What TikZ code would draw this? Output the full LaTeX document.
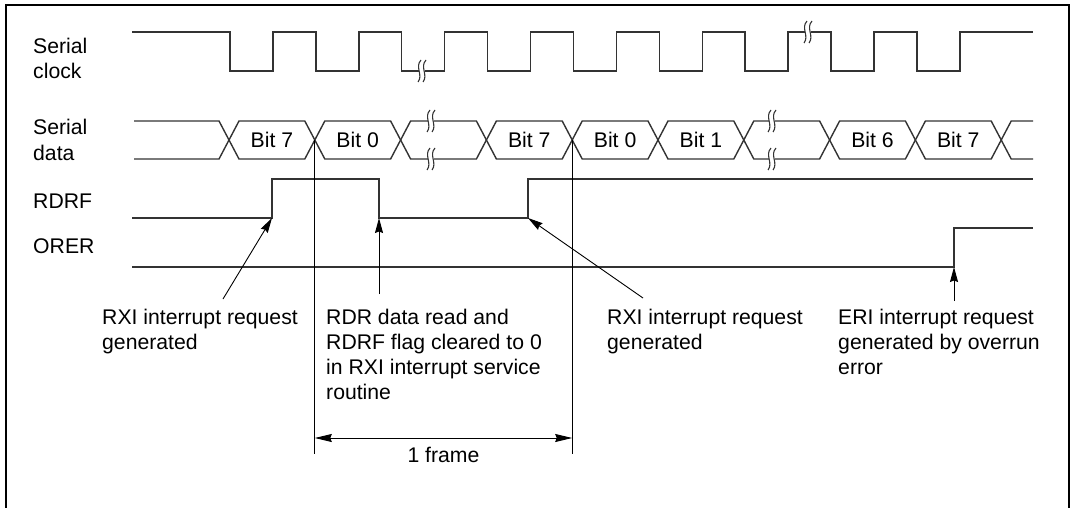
\documentclass[tikz,border=0pt]{standalone}
\usepackage{fontspec}
\setmainfont{Liberation Sans}
\usetikzlibrary{arrows.meta}
\newcommand\brkmk[2]{%
  \fill[white] (#1-2.8,#2-5) rectangle (#1+2.8,#2+5);
  \draw[brkline] (#1-1,#2-11) .. controls (#1-7.5,#2-4) and (#1+1.5,#2+4) .. (#1-4,#2+11);
  \draw[brkline] (#1+4,#2-11) .. controls (#1-2.5,#2-4) and (#1+6.5,#2+4) .. (#1+1,#2+11);
}
\begin{document}
\begin{tikzpicture}[x=1pt,y=-1pt,
  wave/.style={line width=1.4pt, draw=black!80, line join=miter},
  guide/.style={line width=1.1pt, draw=black},
  brkline/.style={line width=1.1pt, draw=black!80},
  callout/.style={line width=0.9pt, draw=black, -{Stealth[length=15pt,width=8pt,inset=1.5pt]}},
  dim/.style={line width=0.9pt, draw=black, {Stealth[length=17pt,width=8pt,inset=1.5pt]}-{Stealth[length=17pt,width=8pt,inset=1.5pt]}},
  lbl/.style={anchor=base west, inner sep=0pt, align=left, font=\fontsize{21.2}{25}\selectfont},
  bit/.style={anchor=center, inner sep=0pt, font=\fontsize{21.2}{25}\selectfont}]
\useasboundingbox (0,0) rectangle (1075,508);
% frame
\draw[line width=2pt] (5.5,520) -- (5.5,5.5) -- (1068.5,5.5) -- (1068.5,520);

% signal names (anchor = baseline of last line)
\node[lbl] (nclk) at (33,78.5) {Serial\\clock};
\node[lbl] (ndat) at (33,160) {Serial\\data};
\node[lbl] (nrdrf) at (33,208.3) {RDRF};
\node[lbl] (norer) at (33,253.3) {ORER};

% serial clock
\draw[wave] (132,32) foreach \k in {0,...,8} {
  -- ({230+85.85*\k},32) -- ({230+85.85*\k},71) -- ({273+85.85*\k},71) -- ({273+85.85*\k},32) } -- (1033,32);

% serial data
\draw[wave] (134,121) foreach \k in {0,2,4,6,8} {
  -- ({229+85.8*\k-10},121) -- ({229+85.8*\k+10},159) -- ({229+85.8*(\k+1)-10},159) -- ({229+85.8*(\k+1)+10},121) } -- (1033,121);
\draw[wave] (134,159) foreach \k in {0,2,4,6,8} {
  -- ({229+85.8*\k-10},159) -- ({229+85.8*\k+10},121) -- ({229+85.8*(\k+1)-10},121) -- ({229+85.8*(\k+1)+10},159) } -- (1033,159);

\node[bit] (b1) at (271.9,140) {Bit 7};
\node[bit] (b2) at (357.7,140) {Bit 0};
\node[bit] (b3) at (529.3,140) {Bit 7};
\node[bit] (b4) at (615.1,140) {Bit 0};
\node[bit] (b5) at (700.9,140) {Bit 1};
\node[bit] (b6) at (872.5,140) {Bit 6};
\node[bit] (b7) at (958.3,140) {Bit 7};

% breaks
\brkmk{422}{71}
\brkmk{808}{32}
\brkmk{431}{121}
\brkmk{431}{159}
\brkmk{772}{121}
\brkmk{772}{159}

% RDRF
\draw[wave] (132,218) -- (272,218) -- (272,179) -- (379,179) -- (379,218) -- (528,218) -- (528,179) -- (1033,179);
% ORER
\draw[wave] (132,267) -- (954,267) -- (954,228) -- (1033,228);

% frame guides
\coordinate (g1t) at (314.8,140);
\coordinate (g1b) at (314.8,454);
\coordinate (g2t) at (572.2,140);
\coordinate (g2b) at (572.2,454);
\draw[guide] (g1t) -- (g1b);
\draw[guide] (g2t) -- (g2b);
\coordinate (fl) at (314.8,438);
\coordinate (fr) at (572.2,438);
\draw[dim] (fl) -- (fr);
\node[bit, anchor=base] (frm) at (443.5,462) {1 frame};

% callouts
\coordinate (a1s) at (223,299);
\coordinate (a1e) at (272,218);
\coordinate (a2s) at (379,294);
\coordinate (a2e) at (379,218);
\coordinate (a3s) at (643,298);
\coordinate (a3e) at (528,218);
\coordinate (a4s) at (954,301);
\coordinate (a4e) at (954,267);
\draw[callout] (a1s) -- (a1e);
\draw[callout] (a2s) -- (a2e);
\draw[callout] (a3s) -- (a3e);
\draw[callout] (a4s) -- (a4e);

% texts (anchor = baseline of last line; first line baseline at 324)
\node[lbl] (t1) at (102,349) {RXI interrupt request\\generated};
\node[lbl] (t2) at (326,399) {RDR data read and\\RDRF flag cleared to 0\\in RXI interrupt service\\routine};
\node[lbl] (t3) at (607,349) {RXI interrupt request\\generated};
\node[lbl] (t4) at (838,374) {ERI interrupt request\\generated by overrun\\error};
\end{tikzpicture}
\end{document}
